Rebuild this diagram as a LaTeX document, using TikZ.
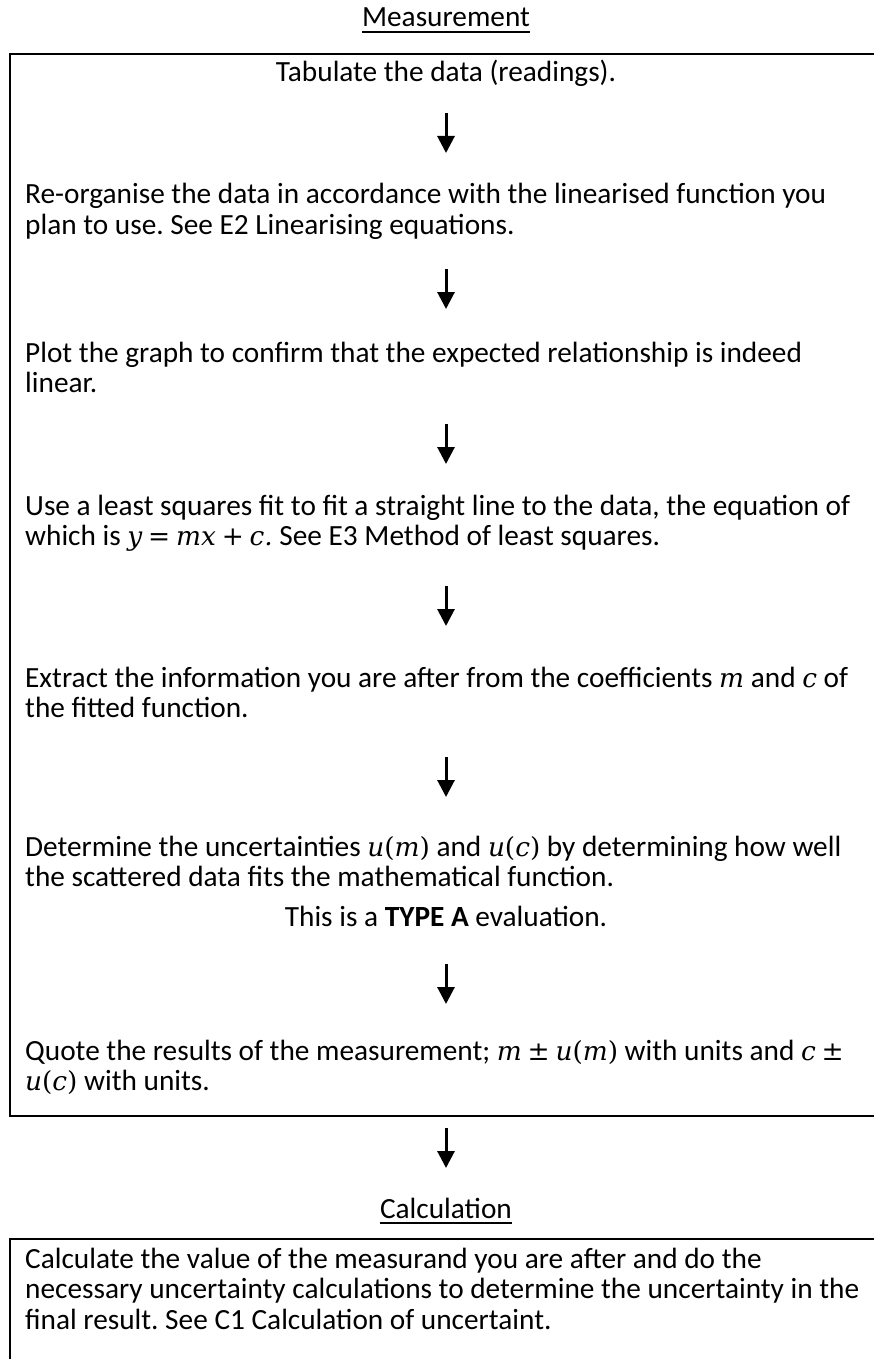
\documentclass[tikz,border=0pt]{standalone}
\usepackage{fontspec}
\setmainfont{Carlito}
\newfontfamily\mymathfont{DejaVu Serif}[Scale=0.9]
\usetikzlibrary{arrows.meta}
\frenchspacing
\newcommand{\mylines}[1]{\begin{tabular}[t]{@{}l@{}}#1\end{tabular}}
\newcommand{\myit}[1]{{\mymathfont\itshape #1}}
\newcommand{\myop}[1]{{\mymathfont\hspace{0.22em}#1\hspace{0.22em}}}
\newcommand{\mypar}[1]{{\mymathfont #1}}
\begin{document}
\begin{tikzpicture}[x=1pt,y=1pt,
  txt/.style={inner sep=0pt, anchor=base west, font=\frenchspacing\fontsize{29.3}{30.5}\selectfont},
  ctr/.style={inner sep=0pt, anchor=base, font=\frenchspacing\fontsize{29.3}{30.5}\selectfont},
  frame/.style={draw=black, line width=1.7pt},
  uline/.style={line width=1.8pt},
  arr/.style={line width=3pt, -{Triangle[width=17pt,length=17pt]}}]
\useasboundingbox (0,0) rectangle (874,-1359);
\begin{scope}
  \clip (0,0) rectangle (874,-1359);
  \draw[frame] (10,-54) rectangle (892,-1116);
  \draw[frame] (10,-1239) rectangle (892,-1420);
\end{scope}
% titles
\node[ctr] (meas) at (446,-27) {Measurement};
\draw[uline] ([yshift=-5pt]meas.base west) -- ([yshift=-5pt]meas.base east);
\node[ctr] (calc) at (446,-1218) {Calculation};
\draw[uline] ([yshift=-5pt]calc.base west) -- ([yshift=-5pt]calc.base east);
% steps
\node[ctr] (s1) at (446,-82) {Tabulate the data (readings).};
\node[txt] (s2) at (25,-204) {\mylines{Re-organise the data in accordance with the linearised function you\\plan to use. See E2 Linearising equations.}};
\node[txt] (s3) at (25,-362) {\mylines{Plot the graph to confirm that the expected relationship is indeed\\linear.}};
\node[txt] (s4) at (25,-515) {\mylines{Use a least squares fit to fit a straight line to the data, the equation of\\which is \myit{y}\myop{=}\myit{mx}\myop{+}\myit{c.} See E3 Method of least squares.}};
\node[txt] (s5) at (25,-687) {\mylines{Extract the information you are after from the coefficients \myit{m} and \myit{c} of\\the fitted function.}};
\node[txt] (s6) at (25,-856) {\mylines{Determine the uncertainties \myit{u}\mypar{(}\myit{m}\mypar{)} and \myit{u}\mypar{(}\myit{c}\mypar{)} by determining how well\\the scattered data fits the mathematical function.}};
\node[ctr] (s6b) at (446,-926) {This is a \textbf{TYPE A} evaluation.};
\node[txt] (s7) at (25,-1060) {\mylines{Quote the results of the measurement; \myit{m}\myop{±}\myit{u}\mypar{(}\myit{m}\mypar{)} with units and \myit{c}\myop{±}\\\myit{u}\mypar{(}\myit{c}\mypar{)} with units.}};
\node[txt] (s8) at (25,-1268) {\mylines{Calculate the value of the measurand you are after and do the\\necessary uncertainty calculations to determine the uncertainty in the\\final result. See C1 Calculation of uncertaint.}};
% arrows
\coordinate (a1s) at (446,-113); \coordinate (a1e) at (446,-153);
\coordinate (a2s) at (446,-269); \coordinate (a2e) at (446,-309);
\coordinate (a3s) at (446,-424); \coordinate (a3e) at (446,-464);
\coordinate (a4s) at (446,-586); \coordinate (a4e) at (446,-626);
\coordinate (a5s) at (446,-757); \coordinate (a5e) at (446,-797);
\coordinate (a6s) at (446,-964); \coordinate (a6e) at (446,-1004);
\coordinate (a7s) at (446,-1128); \coordinate (a7e) at (446,-1168);
\foreach \i in {1,...,7} { \draw[arr] (a\i s) -- (a\i e); }
\end{tikzpicture}
\end{document}
